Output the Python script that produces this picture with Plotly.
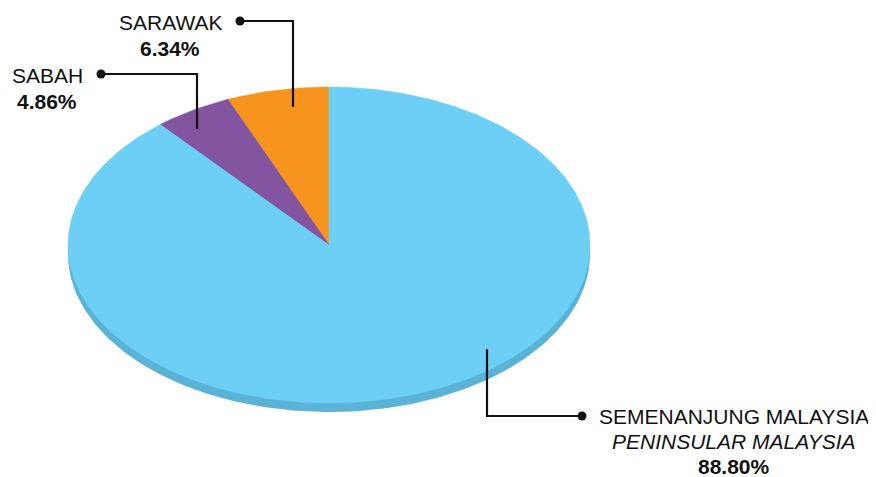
import numpy as np
import plotly.graph_objects as go

# data
regions = ["SARAWAK", "SABAH", "SEMENANJUNG MALAYSIA"]
shares = [6.34, 4.86, 88.80]
colors = ["#F7941E", "#8355A1", "#6DCFF6"]
side_color = "#5AB3D7"

# pie geometry (window pixel space)
CX, CY, RX, RY, DEPTH = 329, 245, 261, 158, 9

W, H = 876, 477
PAD = 8  # page body margin
fig = go.Figure()

# side / depth of the pie
t = np.linspace(0, 2 * np.pi, 361)
fig.add_trace(go.Scatter(
    x=CX + RX * np.cos(t), y=CY + DEPTH - RY * np.sin(t),
    mode="lines", fill="toself", fillcolor=side_color,
    line=dict(width=0), hoverinfo="skip", showlegend=False))

# top face slices, counter-clockwise from 12 o'clock
start = np.pi / 2
for name, val, col in zip(regions, shares, colors):
    span = val / sum(shares) * 2 * np.pi
    a = np.linspace(start, start + span, max(int(val * 4), 10))
    xs = np.concatenate([[CX], CX + RX * np.cos(a), [CX]])
    ys = np.concatenate([[CY], CY - RY * np.sin(a), [CY]])
    fig.add_trace(go.Scatter(
        x=xs, y=ys, mode="lines", fill="toself", fillcolor=col,
        line=dict(width=0.5, color=col), name=name,
        hoverinfo="name", showlegend=False))
    start += span

# leader lines
leaders = [
    ([240, 293, 293], [21, 21, 107]),
    ([101, 197, 197], [74, 74, 129]),
    ([582, 487, 487], [416, 416, 349]),
]
for lx, ly in leaders:
    fig.add_trace(go.Scatter(
        x=lx, y=ly, mode="lines", line=dict(color="#111", width=2.2),
        hoverinfo="skip", showlegend=False))
    fig.add_trace(go.Scatter(
        x=[lx[0]], y=[ly[0]], mode="markers",
        marker=dict(color="#111", size=9), hoverinfo="skip", showlegend=False))

FONT = "Liberation Sans, Arial, sans-serif"
FS = 21
labels = [
    (170, 22, "SARAWAK", f"<b>{shares[0]:.2f}%</b>"),
    (47, 75, "SABAH", f"<b>{shares[1]:.2f}%</b>"),
]
for x, y, top, bottom in labels:
    fig.add_annotation(x=x, y=y, text=top, showarrow=False,
                       font=dict(family=FONT, size=FS, color="#111"))
    fig.add_annotation(x=x, y=y + 26, text=bottom, showarrow=False,
                       font=dict(family=FONT, size=FS, color="#111"))

fig.add_annotation(x=734, y=416, text="SEMENANJUNG MALAYSIA", showarrow=False,
                   font=dict(family=FONT, size=FS, color="#111"))
fig.add_annotation(x=734, y=441, text="<i>PENINSULAR MALAYSIA</i>", showarrow=False,
                   font=dict(family=FONT, size=FS, color="#111"))
fig.add_annotation(x=734, y=466, text=f"<b>{shares[2]:.2f}%</b>", showarrow=False,
                   font=dict(family=FONT, size=FS, color="#111"))

fig.update_layout(
    width=W - PAD, height=H - PAD,
    margin=dict(l=0, r=0, t=0, b=0),
    paper_bgcolor="white", plot_bgcolor="white",
    xaxis=dict(range=[PAD, W], visible=False, fixedrange=True),
    yaxis=dict(range=[H, PAD], visible=False, fixedrange=True),
)

fig.write_html("out.html")
